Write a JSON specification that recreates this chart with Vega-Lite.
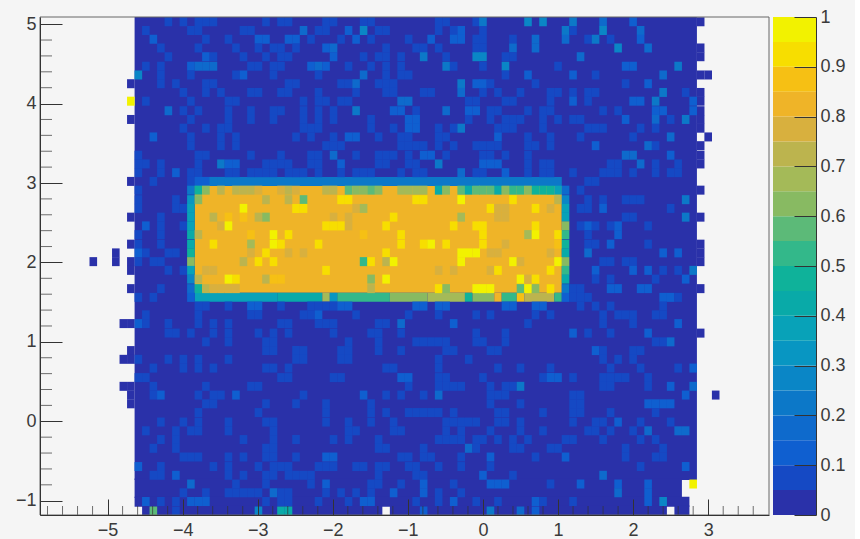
{"$schema":"https://vega.github.io/schema/vega-lite/v6.json","background":"#f5f5f5","padding":{"left":15,"top":8,"right":9,"bottom":0},"spacing":3,
"config":{"view":{"stroke":null},"axis":{"labelFont":"Liberation Sans","labelFontSize":18,"labelColor":"#3a3a3a","domainColor":"#333","tickColor":"#333","grid":false,"title":null}},
"datasets":{
"bar":[{"a":0,"b":0.05},{"a":0.05,"b":0.1},{"a":0.1,"b":0.15},{"a":0.15,"b":0.2},{"a":0.2,"b":0.25},{"a":0.25,"b":0.3},{"a":0.3,"b":0.35},{"a":0.35,"b":0.4},{"a":0.4,"b":0.45},{"a":0.45,"b":0.5},{"a":0.5,"b":0.55},{"a":0.55,"b":0.6},{"a":0.6,"b":0.65},{"a":0.65,"b":0.7},{"a":0.7,"b":0.75},{"a":0.75,"b":0.8},{"a":0.8,"b":0.85},{"a":0.85,"b":0.9},{"a":0.9,"b":0.95},{"a":0.95,"b":1}],
"xm":[{"x":-5.8},{"x":-5.6},{"x":-5.4},{"x":-5.2},{"x":-4.8},{"x":-4.6},{"x":-4.4},{"x":-4.2},{"x":-3.8},{"x":-3.6},{"x":-3.4},{"x":-3.2},{"x":-2.8},{"x":-2.6},{"x":-2.4},{"x":-2.2},{"x":-1.8},{"x":-1.6},{"x":-1.4},{"x":-1.2},{"x":-0.8},{"x":-0.6},{"x":-0.4},{"x":-0.2},{"x":0.2},{"x":0.4},{"x":0.6},{"x":0.8},{"x":1.2},{"x":1.4},{"x":1.6},{"x":1.8},{"x":2.2},{"x":2.4},{"x":2.6},{"x":2.8},{"x":3.2},{"x":3.4},{"x":3.6}],
"ym":[{"y":-0.8},{"y":-0.6},{"y":-0.4},{"y":-0.2},{"y":0.2},{"y":0.4},{"y":0.6},{"y":0.8},{"y":1.2},{"y":1.4},{"y":1.6},{"y":1.8},{"y":2.2},{"y":2.4},{"y":2.6},{"y":2.8},{"y":3.2},{"y":3.4},{"y":3.6},{"y":3.8},{"y":4.2},{"y":4.4},{"y":4.6},{"y":4.8}],
"regions":[
{"x":-4.64,"x2":2.85,"y":5.09,"y2":-0.74,"v":0.02},
{"x":-4.64,"x2":2.65,"y":-0.72,"y2":-0.965,"v":0.02},
{"x":-4.64,"x2":2.75,"y":-0.95,"y2":-1.075,"v":0.02},
{"x":-4.54,"x2":-1.34,"y":-1.06,"y2":-1.18,"v":0.02},
{"x":-1.24,"x2":2.45,"y":-1.06,"y2":-1.18,"v":0.02},
{"x":2.55,"x2":2.75,"y":-1.06,"y2":-1.18,"v":0.02},
{"x":-3.84,"x2":1.05,"y":2.962,"y2":1.618,"v":0.82},
{"x":-3.84,"x2":1.05,"y":3.074,"y2":2.962,"v":0.22},
{"x":-3.84,"x2":-2.74,"y":1.618,"y2":1.506,"v":0.37},
{"x":-2.74,"x2":-2.14,"y":1.618,"y2":1.506,"v":0.42},
{"x":-2.14,"x2":-2.04,"y":1.618,"y2":1.506,"v":0.65},
{"x":-2.04,"x2":-1.94,"y":1.618,"y2":1.506,"v":0.32},
{"x":-1.94,"x2":-1.24,"y":1.618,"y2":1.506,"v":0.52},
{"x":-1.24,"x2":-0.74,"y":1.618,"y2":1.506,"v":0.6},
{"x":-0.74,"x2":-0.24,"y":1.618,"y2":1.506,"v":0.67},
{"x":-0.24,"x2":-0.14,"y":1.618,"y2":1.506,"v":0.47},
{"x":-0.14,"x2":0.15,"y":1.618,"y2":1.506,"v":0.6},
{"x":0.15,"x2":0.25,"y":1.618,"y2":1.506,"v":0.82},
{"x":0.25,"x2":0.45,"y":1.618,"y2":1.506,"v":0.52},
{"x":0.45,"x2":0.55,"y":1.618,"y2":1.506,"v":0.87},
{"x":0.55,"x2":0.95,"y":1.618,"y2":1.506,"v":0.72},
{"x":0.95,"x2":1.05,"y":1.618,"y2":1.506,"v":0.52}
],
"cells":[
{"x":2.9,"y":5.03,"v":0.02},{"x":2.9,"y":4.7,"v":0.02},{"x":2.9,"y":4.59,"v":0.02},{"x":2.9,"y":4.36,"v":0.02},{"x":3.0,"y":4.36,"v":0.02},{"x":2.9,"y":4.14,"v":0.02},{"x":2.9,"y":4.03,"v":0.02},{"x":2.9,"y":3.91,"v":0.02},{"x":2.9,"y":3.8,"v":0.02},{"x":2.9,"y":3.69,"v":0.02},{"x":3.0,"y":3.58,"v":0.02},{"x":2.9,"y":3.47,"v":0.02},{"x":2.9,"y":3.35,"v":0.02},{"x":2.9,"y":3.24,"v":0.02},{"x":2.9,"y":2.91,"v":0.02},{"x":2.9,"y":2.57,"v":0.02},{"x":2.9,"y":2.23,"v":0.02},{"x":2.9,"y":2.12,"v":0.02},{"x":2.9,"y":2.01,"v":0.02},{"x":2.9,"y":1.67,"v":0.02},{"x":2.9,"y":1.11,"v":0.02},{"x":3.1,"y":0.33,"v":0.02},{"x":2.8,"y":-0.79,"v":0.97},
{"x":-4.69,"y":4.25,"v":0.02},{"x":-4.69,"y":4.03,"v":0.97},{"x":-4.69,"y":3.8,"v":0.02},{"x":-4.69,"y":3.02,"v":0.02},{"x":-4.69,"y":2.57,"v":0.02},{"x":-4.69,"y":2.23,"v":0.02},{"x":-4.89,"y":2.12,"v":0.02},{"x":-4.89,"y":2.01,"v":0.02},{"x":-5.19,"y":2.01,"v":0.02},{"x":-4.69,"y":2.01,"v":0.02},{"x":-4.69,"y":1.9,"v":0.02},{"x":-4.69,"y":1.67,"v":0.02},{"x":-4.69,"y":1.23,"v":0.02},{"x":-4.79,"y":1.23,"v":0.02},{"x":-4.69,"y":0.89,"v":0.02},{"x":-4.69,"y":0.78,"v":0.02},{"x":-4.79,"y":0.78,"v":0.02},{"x":-4.69,"y":0.44,"v":0.02},{"x":-4.79,"y":0.44,"v":0.02},{"x":-4.69,"y":0.33,"v":0.02},{"x":-4.69,"y":0.22,"v":0.02},
{"x":-4.19,"y":5.03,"v":0.07},{"x":-3.99,"y":5.03,"v":0.07},{"x":-3.79,"y":5.03,"v":0.07},{"x":-3.69,"y":5.03,"v":0.07},{"x":-3.59,"y":5.03,"v":0.07},{"x":-2.89,"y":5.03,"v":0.07},{"x":-2.69,"y":5.03,"v":0.07},{"x":-2.59,"y":5.03,"v":0.07},{"x":-2.09,"y":5.03,"v":0.07},{"x":-1.99,"y":5.03,"v":0.07},{"x":-1.59,"y":5.03,"v":0.07},{"x":-1.49,"y":5.03,"v":0.07},{"x":-0.59,"y":5.03,"v":0.07},{"x":-0.49,"y":5.03,"v":0.07},{"x":-0.09,"y":5.03,"v":0.07},{"x":0,"y":5.03,"v":0.22},{"x":0.6,"y":5.03,"v":0.27},{"x":0.8,"y":5.03,"v":0.27},{"x":1.2,"y":5.03,"v":0.22},{"x":1.6,"y":5.03,"v":0.17},{"x":2,"y":5.03,"v":0.12},
{"x":-4.49,"y":4.92,"v":0.07},{"x":-3.89,"y":4.92,"v":0.07},{"x":-3.79,"y":4.92,"v":0.07},{"x":-3.19,"y":4.92,"v":0.07},{"x":-3.09,"y":4.92,"v":0.07},{"x":-2.39,"y":4.92,"v":0.17},{"x":-2.19,"y":4.92,"v":0.07},{"x":-2.09,"y":4.92,"v":0.07},{"x":-1.79,"y":4.92,"v":0.12},{"x":-1.59,"y":4.92,"v":0.27},{"x":-1.39,"y":4.92,"v":0.07},{"x":-1.29,"y":4.92,"v":0.07},{"x":-0.59,"y":4.92,"v":0.07},{"x":-0.39,"y":4.92,"v":0.07},{"x":-0.29,"y":4.92,"v":0.12},{"x":0,"y":4.92,"v":0.07},{"x":1.1,"y":4.92,"v":0.22},{"x":1.2,"y":4.92,"v":0.07},{"x":1.6,"y":4.92,"v":0.27},{"x":2.1,"y":4.92,"v":0.17},
{"x":-4.39,"y":4.81,"v":0.12},{"x":-3.69,"y":4.81,"v":0.07},{"x":-3.39,"y":4.81,"v":0.07},{"x":-2.99,"y":4.81,"v":0.12},{"x":-2.89,"y":4.81,"v":0.12},{"x":-2.59,"y":4.81,"v":0.12},{"x":-2.49,"y":4.81,"v":0.12},{"x":-2.29,"y":4.81,"v":0.07},{"x":-1.89,"y":4.81,"v":0.07},{"x":-1.69,"y":4.81,"v":0.12},{"x":-1.49,"y":4.81,"v":0.07},{"x":-0.99,"y":4.81,"v":0.07},{"x":-0.69,"y":4.81,"v":0.12},{"x":-0.39,"y":4.81,"v":0.12},{"x":-0.29,"y":4.81,"v":0.12},{"x":-0.09,"y":4.81,"v":0.07},{"x":0,"y":4.81,"v":0.07},{"x":0.4,"y":4.81,"v":0.07},{"x":0.7,"y":4.81,"v":0.17},{"x":1.1,"y":4.81,"v":0.17},{"x":1.4,"y":4.81,"v":0.07},{"x":1.5,"y":4.81,"v":0.22},{"x":1.7,"y":4.81,"v":0.07},{"x":2.1,"y":4.81,"v":0.12},
{"x":-4.29,"y":4.7,"v":0.07},{"x":-3.79,"y":4.7,"v":0.07},{"x":-3.29,"y":4.7,"v":0.07},{"x":-2.99,"y":4.7,"v":0.07},{"x":-2.79,"y":4.7,"v":0.07},{"x":-2.69,"y":4.7,"v":0.07},{"x":-2.49,"y":4.7,"v":0.07},{"x":-2.09,"y":4.7,"v":0.12},{"x":-1.99,"y":4.7,"v":0.17},{"x":-1.29,"y":4.7,"v":0.07},{"x":-0.89,"y":4.7,"v":0.07},{"x":-0.79,"y":4.7,"v":0.07},{"x":-0.59,"y":4.7,"v":0.07},{"x":-0.09,"y":4.7,"v":0.07},{"x":0,"y":4.7,"v":0.07},{"x":0.4,"y":4.7,"v":0.17},{"x":0.7,"y":4.7,"v":0.17},{"x":1.8,"y":4.7,"v":0.27},{"x":2.2,"y":4.7,"v":0.17},
{"x":-4.19,"y":4.59,"v":0.07},{"x":-3.69,"y":4.59,"v":0.12},{"x":-3.59,"y":4.59,"v":0.07},{"x":-3.19,"y":4.59,"v":0.07},{"x":-2.89,"y":4.59,"v":0.07},{"x":-2.69,"y":4.59,"v":0.07},{"x":-2.59,"y":4.59,"v":0.07},{"x":-1.99,"y":4.59,"v":0.12},{"x":-1.59,"y":4.59,"v":0.07},{"x":-1.39,"y":4.59,"v":0.07},{"x":-1.29,"y":4.59,"v":0.07},{"x":-1.09,"y":4.59,"v":0.07},{"x":-0.79,"y":4.59,"v":0.22},{"x":-0.49,"y":4.59,"v":0.07},{"x":-0.09,"y":4.59,"v":0.27},{"x":0,"y":4.59,"v":0.27},{"x":0.3,"y":4.59,"v":0.07},{"x":0.4,"y":4.59,"v":0.07},{"x":1.3,"y":4.59,"v":0.17},
{"x":-4.49,"y":4.47,"v":0.07},{"x":-4.29,"y":4.47,"v":0.07},{"x":-3.89,"y":4.47,"v":0.12},{"x":-3.79,"y":4.47,"v":0.17},{"x":-3.69,"y":4.47,"v":0.17},{"x":-3.59,"y":4.47,"v":0.17},{"x":-3.09,"y":4.47,"v":0.07},{"x":-2.99,"y":4.47,"v":0.07},{"x":-2.79,"y":4.47,"v":0.07},{"x":-2.69,"y":4.47,"v":0.07},{"x":-2.29,"y":4.47,"v":0.12},{"x":-2.19,"y":4.47,"v":0.17},{"x":-2.09,"y":4.47,"v":0.12},{"x":-1.79,"y":4.47,"v":0.07},{"x":-1.49,"y":4.47,"v":0.07},{"x":-1.29,"y":4.47,"v":0.07},{"x":-1.09,"y":4.47,"v":0.07},{"x":-0.49,"y":4.47,"v":0.22},{"x":-0.39,"y":4.47,"v":0.07},{"x":0,"y":4.47,"v":0.07},{"x":0.3,"y":4.47,"v":0.27},{"x":1,"y":4.47,"v":0.07},{"x":1.9,"y":4.47,"v":0.12},{"x":2,"y":4.47,"v":0.12},{"x":2.6,"y":4.47,"v":0.22},
{"x":-4.59,"y":4.36,"v":0.27},{"x":-4.29,"y":4.36,"v":0.07},{"x":-3.89,"y":4.36,"v":0.07},{"x":-3.29,"y":4.36,"v":0.07},{"x":-3.19,"y":4.36,"v":0.12},{"x":-2.79,"y":4.36,"v":0.07},{"x":-2.19,"y":4.36,"v":0.07},{"x":-1.59,"y":4.36,"v":0.17},{"x":-1.29,"y":4.36,"v":0.07},{"x":-1.09,"y":4.36,"v":0.07},{"x":-0.99,"y":4.36,"v":0.07},{"x":0.3,"y":4.36,"v":0.07},{"x":0.6,"y":4.36,"v":0.12},{"x":1.2,"y":4.36,"v":0.12},{"x":1.5,"y":4.36,"v":0.07},{"x":2.4,"y":4.36,"v":0.17},
{"x":-4.29,"y":4.25,"v":0.07},{"x":-4.09,"y":4.25,"v":0.07},{"x":-3.69,"y":4.25,"v":0.07},{"x":-3.59,"y":4.25,"v":0.07},{"x":-2.59,"y":4.25,"v":0.07},{"x":-2.49,"y":4.25,"v":0.07},{"x":-1.89,"y":4.25,"v":0.07},{"x":-1.79,"y":4.25,"v":0.07},{"x":-1.69,"y":4.25,"v":0.17},{"x":-1.39,"y":4.25,"v":0.07},{"x":-1.29,"y":4.25,"v":0.07},{"x":-1.19,"y":4.25,"v":0.07},{"x":-0.29,"y":4.25,"v":0.22},{"x":-0.09,"y":4.25,"v":0.12},{"x":0,"y":4.25,"v":0.12},{"x":0.1,"y":4.25,"v":0.07},{"x":0.7,"y":4.25,"v":0.07},{"x":1.9,"y":4.25,"v":0.07},{"x":2.2,"y":4.25,"v":0.12},
{"x":-3.99,"y":4.14,"v":0.07},{"x":-3.69,"y":4.14,"v":0.07},{"x":-3.49,"y":4.14,"v":0.07},{"x":-3.09,"y":4.14,"v":0.07},{"x":-2.99,"y":4.14,"v":0.07},{"x":-2.69,"y":4.14,"v":0.07},{"x":-2.59,"y":4.14,"v":0.07},{"x":-2.19,"y":4.14,"v":0.07},{"x":-1.69,"y":4.14,"v":0.07},{"x":-1.29,"y":4.14,"v":0.07},{"x":-1.19,"y":4.14,"v":0.07},{"x":-0.79,"y":4.14,"v":0.07},{"x":-0.69,"y":4.14,"v":0.07},{"x":-0.29,"y":4.14,"v":0.17},{"x":0,"y":4.14,"v":0.07},{"x":0.2,"y":4.14,"v":0.07},{"x":0.5,"y":4.14,"v":0.07},{"x":0.9,"y":4.14,"v":0.07},{"x":1,"y":4.14,"v":0.07},{"x":1.2,"y":4.14,"v":0.07},{"x":1.4,"y":4.14,"v":0.07},{"x":1.5,"y":4.14,"v":0.07},{"x":2.4,"y":4.14,"v":0.22},{"x":2.7,"y":4.14,"v":0.07},
{"x":-4.49,"y":4.03,"v":0.07},{"x":-3.89,"y":4.03,"v":0.07},{"x":-3.39,"y":4.03,"v":0.07},{"x":-3.29,"y":4.03,"v":0.07},{"x":-2.39,"y":4.03,"v":0.07},{"x":-2.19,"y":4.03,"v":0.07},{"x":-2.09,"y":4.03,"v":0.07},{"x":-1.89,"y":4.03,"v":0.07},{"x":-1.79,"y":4.03,"v":0.07},{"x":-1.09,"y":4.03,"v":0.17},{"x":-0.99,"y":4.03,"v":0.17},{"x":-0.19,"y":4.03,"v":0.07},{"x":-0.09,"y":4.03,"v":0.07},{"x":0.3,"y":4.03,"v":0.07},{"x":0.4,"y":4.03,"v":0.07},{"x":0.9,"y":4.03,"v":0.07},{"x":1.2,"y":4.03,"v":0.12},{"x":1.4,"y":4.03,"v":0.07},{"x":2,"y":4.03,"v":0.12},{"x":2.1,"y":4.03,"v":0.12},{"x":2.3,"y":4.03,"v":0.22},{"x":2.8,"y":4.03,"v":0.12},
{"x":-4.19,"y":3.91,"v":0.17},{"x":-3.99,"y":3.91,"v":0.07},{"x":-3.79,"y":3.91,"v":0.07},{"x":-3.39,"y":3.91,"v":0.07},{"x":-3.09,"y":3.91,"v":0.07},{"x":-2.79,"y":3.91,"v":0.07},{"x":-2.69,"y":3.91,"v":0.07},{"x":-2.39,"y":3.91,"v":0.07},{"x":-2.19,"y":3.91,"v":0.07},{"x":-1.99,"y":3.91,"v":0.07},{"x":-1.69,"y":3.91,"v":0.22},{"x":-1.19,"y":3.91,"v":0.12},{"x":-1.09,"y":3.91,"v":0.12},{"x":-0.89,"y":3.91,"v":0.07},{"x":-0.49,"y":3.91,"v":0.17},{"x":-0.19,"y":3.91,"v":0.12},{"x":-0.09,"y":3.91,"v":0.12},{"x":0.1,"y":3.91,"v":0.07},{"x":0.2,"y":3.91,"v":0.07},{"x":0.6,"y":3.91,"v":0.07},{"x":0.8,"y":3.91,"v":0.07},{"x":0.9,"y":3.91,"v":0.07},{"x":1.6,"y":3.91,"v":0.07},{"x":1.8,"y":3.91,"v":0.07},{"x":2.3,"y":3.91,"v":0.12},{"x":2.4,"y":3.91,"v":0.12},{"x":2.8,"y":3.91,"v":0.12},
{"x":-3.89,"y":3.8,"v":0.07},{"x":-3.39,"y":3.8,"v":0.07},{"x":-3.09,"y":3.8,"v":0.07},{"x":-2.79,"y":3.8,"v":0.07},{"x":-2.39,"y":3.8,"v":0.07},{"x":-2.19,"y":3.8,"v":0.07},{"x":-1.99,"y":3.8,"v":0.07},{"x":-1.49,"y":3.8,"v":0.07},{"x":-0.99,"y":3.8,"v":0.12},{"x":-0.89,"y":3.8,"v":0.12},{"x":-0.19,"y":3.8,"v":0.07},{"x":0.1,"y":3.8,"v":0.07},{"x":0.3,"y":3.8,"v":0.07},{"x":0.4,"y":3.8,"v":0.07},{"x":0.5,"y":3.8,"v":0.07},{"x":0.8,"y":3.8,"v":0.07},{"x":1,"y":3.8,"v":0.07},{"x":1.2,"y":3.8,"v":0.07},{"x":1.3,"y":3.8,"v":0.07},{"x":1.9,"y":3.8,"v":0.12},{"x":2.3,"y":3.8,"v":0.17},{"x":2.5,"y":3.8,"v":0.07},{"x":2.7,"y":3.8,"v":0.22},
{"x":-3.99,"y":3.69,"v":0.07},{"x":-3.69,"y":3.69,"v":0.07},{"x":-3.49,"y":3.69,"v":0.07},{"x":-3.39,"y":3.69,"v":0.07},{"x":-2.39,"y":3.69,"v":0.07},{"x":-2.29,"y":3.69,"v":0.07},{"x":-2.19,"y":3.69,"v":0.07},{"x":-1.49,"y":3.69,"v":0.07},{"x":-1.19,"y":3.69,"v":0.07},{"x":-0.99,"y":3.69,"v":0.12},{"x":-0.89,"y":3.69,"v":0.12},{"x":-0.59,"y":3.69,"v":0.07},{"x":-0.39,"y":3.69,"v":0.07},{"x":-0.29,"y":3.69,"v":0.22},{"x":0.2,"y":3.69,"v":0.07},{"x":0.3,"y":3.69,"v":0.07},{"x":0.4,"y":3.69,"v":0.07},{"x":0.8,"y":3.69,"v":0.07},{"x":1.4,"y":3.69,"v":0.07},{"x":1.5,"y":3.69,"v":0.07},{"x":1.6,"y":3.69,"v":0.07},{"x":2.1,"y":3.69,"v":0.07},{"x":2.3,"y":3.69,"v":0.07},
{"x":-4.39,"y":3.58,"v":0.12},{"x":-3.89,"y":3.58,"v":0.07},{"x":-3.49,"y":3.58,"v":0.07},{"x":-3.29,"y":3.58,"v":0.07},{"x":-2.49,"y":3.58,"v":0.07},{"x":-2.29,"y":3.58,"v":0.07},{"x":-1.99,"y":3.58,"v":0.07},{"x":-1.79,"y":3.58,"v":0.12},{"x":-1.69,"y":3.58,"v":0.12},{"x":-1.39,"y":3.58,"v":0.07},{"x":-1.09,"y":3.58,"v":0.07},{"x":-0.99,"y":3.58,"v":0.07},{"x":-0.59,"y":3.58,"v":0.07},{"x":-0.49,"y":3.58,"v":0.07},{"x":0.2,"y":3.58,"v":0.12},{"x":0.6,"y":3.58,"v":0.07},{"x":0.9,"y":3.58,"v":0.07},{"x":1.3,"y":3.58,"v":0.07},{"x":2,"y":3.58,"v":0.07},{"x":2.5,"y":3.58,"v":0.17},
{"x":-3.89,"y":3.47,"v":0.07},{"x":-3.49,"y":3.47,"v":0.07},{"x":-3.29,"y":3.47,"v":0.07},{"x":-2.09,"y":3.47,"v":0.07},{"x":-1.99,"y":3.47,"v":0.07},{"x":-1.89,"y":3.47,"v":0.07},{"x":-1.09,"y":3.47,"v":0.07},{"x":-0.99,"y":3.47,"v":0.07},{"x":-0.89,"y":3.47,"v":0.07},{"x":-0.79,"y":3.47,"v":0.07},{"x":-0.59,"y":3.47,"v":0.07},{"x":-0.39,"y":3.47,"v":0.07},{"x":-0.09,"y":3.47,"v":0.07},{"x":0,"y":3.47,"v":0.07},{"x":0.1,"y":3.47,"v":0.07},{"x":0.2,"y":3.47,"v":0.07},{"x":0.6,"y":3.47,"v":0.07},{"x":0.7,"y":3.47,"v":0.07},{"x":0.9,"y":3.47,"v":0.07},{"x":1.5,"y":3.47,"v":0.12},{"x":2.2,"y":3.47,"v":0.17},{"x":2.3,"y":3.47,"v":0.07},
{"x":-4.59,"y":3.35,"v":0.07},{"x":-3.79,"y":3.35,"v":0.07},{"x":-3.69,"y":3.35,"v":0.07},{"x":-3.09,"y":3.35,"v":0.07},{"x":-2.69,"y":3.35,"v":0.07},{"x":-2.29,"y":3.35,"v":0.07},{"x":-2.19,"y":3.35,"v":0.07},{"x":-1.99,"y":3.35,"v":0.17},{"x":-1.69,"y":3.35,"v":0.07},{"x":-1.39,"y":3.35,"v":0.07},{"x":-1.29,"y":3.35,"v":0.07},{"x":-1.19,"y":3.35,"v":0.07},{"x":-0.99,"y":3.35,"v":0.07},{"x":-0.79,"y":3.35,"v":0.12},{"x":-0.69,"y":3.35,"v":0.12},{"x":-0.49,"y":3.35,"v":0.07},{"x":0,"y":3.35,"v":0.07},{"x":0.1,"y":3.35,"v":0.07},{"x":0.3,"y":3.35,"v":0.07},{"x":0.6,"y":3.35,"v":0.07},{"x":1.9,"y":3.35,"v":0.17},{"x":2,"y":3.35,"v":0.17},{"x":2.5,"y":3.35,"v":0.12},
{"x":-4.59,"y":3.24,"v":0.07},{"x":-4.49,"y":3.24,"v":0.07},{"x":-4.29,"y":3.24,"v":0.07},{"x":-3.79,"y":3.24,"v":0.07},{"x":-3.49,"y":3.24,"v":0.22},{"x":-3.39,"y":3.24,"v":0.12},{"x":-3.29,"y":3.24,"v":0.12},{"x":-2.89,"y":3.24,"v":0.07},{"x":-2.79,"y":3.24,"v":0.07},{"x":-2.69,"y":3.24,"v":0.07},{"x":-2.59,"y":3.24,"v":0.07},{"x":-2.29,"y":3.24,"v":0.07},{"x":-2.19,"y":3.24,"v":0.07},{"x":-1.89,"y":3.24,"v":0.12},{"x":-1.39,"y":3.24,"v":0.07},{"x":-1.29,"y":3.24,"v":0.07},{"x":-0.99,"y":3.24,"v":0.07},{"x":-0.89,"y":3.24,"v":0.07},{"x":-0.59,"y":3.24,"v":0.22},{"x":0,"y":3.24,"v":0.12},{"x":0.1,"y":3.24,"v":0.12},{"x":0.2,"y":3.24,"v":0.12},{"x":0.6,"y":3.24,"v":0.07},{"x":0.8,"y":3.24,"v":0.07},{"x":0.9,"y":3.24,"v":0.07},{"x":1.7,"y":3.24,"v":0.07},{"x":1.8,"y":3.24,"v":0.07},{"x":2.1,"y":3.24,"v":0.17},{"x":2.3,"y":3.24,"v":0.07},{"x":2.6,"y":3.24,"v":0.07},
{"x":-4.59,"y":3.13,"v":0.07},{"x":-4.29,"y":3.13,"v":0.07},{"x":-4.09,"y":3.13,"v":0.12},{"x":-3.89,"y":3.13,"v":0.07},{"x":-3.79,"y":3.13,"v":0.07},{"x":-3.39,"y":3.13,"v":0.07},{"x":-3.29,"y":3.13,"v":0.07},{"x":-3.09,"y":3.13,"v":0.07},{"x":-2.99,"y":3.13,"v":0.07},{"x":-2.89,"y":3.13,"v":0.07},{"x":-2.79,"y":3.13,"v":0.07},{"x":-2.59,"y":3.13,"v":0.07},{"x":-2.49,"y":3.13,"v":0.07},{"x":-2.39,"y":3.13,"v":0.07},{"x":-2.19,"y":3.13,"v":0.07},{"x":-1.89,"y":3.13,"v":0.07},{"x":-1.69,"y":3.13,"v":0.07},{"x":-1.59,"y":3.13,"v":0.07},{"x":-1.49,"y":3.13,"v":0.07},{"x":-1.09,"y":3.13,"v":0.07},{"x":-0.89,"y":3.13,"v":0.07},{"x":-0.79,"y":3.13,"v":0.07},{"x":-0.29,"y":3.13,"v":0.17},{"x":-0.09,"y":3.13,"v":0.07},{"x":0,"y":3.13,"v":0.07},{"x":0.3,"y":3.13,"v":0.12},{"x":0.6,"y":3.13,"v":0.07},{"x":0.8,"y":3.13,"v":0.07},{"x":0.9,"y":3.13,"v":0.07},{"x":1.2,"y":3.13,"v":0.07},{"x":1.6,"y":3.13,"v":0.07},{"x":1.7,"y":3.13,"v":0.07},{"x":1.8,"y":3.13,"v":0.07},{"x":2,"y":3.13,"v":0.07},{"x":2.3,"y":3.13,"v":0.07},{"x":2.5,"y":3.13,"v":0.07},{"x":2.6,"y":3.13,"v":0.07},
{"x":-4.39,"y":3.02,"v":0.07},{"x":-3.89,"y":3.02,"v":0.07},{"x":-3.79,"y":3.02,"v":0.12},{"x":-3.69,"y":3.02,"v":0.12},{"x":-3.59,"y":3.02,"v":0.22},{"x":-3.49,"y":3.02,"v":0.22},{"x":1.4,"y":3.02,"v":0.07},{"x":1.5,"y":3.02,"v":0.07},
{"x":-4.59,"y":2.91,"v":0.07},{"x":-3.89,"y":2.91,"v":0.22},{"x":-3.79,"y":2.91,"v":0.47},{"x":-3.69,"y":2.91,"v":0.62},{"x":-3.49,"y":2.91,"v":0.72},{"x":-3.29,"y":2.91,"v":0.72},{"x":-3.19,"y":2.91,"v":0.72},{"x":-3.09,"y":2.91,"v":0.72},{"x":-2.99,"y":2.91,"v":0.77},{"x":-2.69,"y":2.91,"v":0.77},{"x":-2.59,"y":2.91,"v":0.72},{"x":-2.49,"y":2.91,"v":0.77},{"x":-2.09,"y":2.91,"v":0.72},{"x":-1.99,"y":2.91,"v":0.72},{"x":-1.79,"y":2.91,"v":0.57},{"x":-1.69,"y":2.91,"v":0.62},{"x":-1.59,"y":2.91,"v":0.62},{"x":-1.49,"y":2.91,"v":0.57},{"x":-1.39,"y":2.91,"v":0.62},{"x":-1.09,"y":2.91,"v":0.67},{"x":-0.99,"y":2.91,"v":0.67},{"x":-0.89,"y":2.91,"v":0.67},{"x":-0.79,"y":2.91,"v":0.67},{"x":-0.59,"y":2.91,"v":0.42},{"x":-0.49,"y":2.91,"v":0.62},{"x":-0.29,"y":2.91,"v":0.57},{"x":-0.19,"y":2.91,"v":0.42},{"x":-0.09,"y":2.91,"v":0.57},{"x":0,"y":2.91,"v":0.57},{"x":0.1,"y":2.91,"v":0.57},{"x":0.2,"y":2.91,"v":0.42},{"x":0.3,"y":2.91,"v":0.62},{"x":0.4,"y":2.91,"v":0.52},{"x":0.5,"y":2.91,"v":0.52},{"x":0.6,"y":2.91,"v":0.62},{"x":0.7,"y":2.91,"v":0.47},{"x":0.8,"y":2.91,"v":0.47},{"x":0.9,"y":2.91,"v":0.47},{"x":1,"y":2.91,"v":0.37},{"x":1.1,"y":2.91,"v":0.17},{"x":1.3,"y":2.91,"v":0.07},
{"x":-4.59,"y":2.79,"v":0.07},{"x":-4.09,"y":2.79,"v":0.07},{"x":-3.89,"y":2.79,"v":0.32},{"x":-3.79,"y":2.79,"v":0.62},{"x":-2.89,"y":2.79,"v":0.72},{"x":-2.59,"y":2.79,"v":0.72},{"x":-2.39,"y":2.79,"v":0.57},{"x":-1.89,"y":2.79,"v":0.92},{"x":-1.79,"y":2.79,"v":0.92},{"x":-0.89,"y":2.79,"v":0.92},{"x":-0.79,"y":2.79,"v":0.92},{"x":-0.29,"y":2.79,"v":0.97},{"x":0.4,"y":2.79,"v":0.92},{"x":1,"y":2.79,"v":0.72},{"x":1.1,"y":2.79,"v":0.27},{"x":1.4,"y":2.79,"v":0.07},{"x":1.6,"y":2.79,"v":0.07},{"x":1.9,"y":2.79,"v":0.07},{"x":2,"y":2.79,"v":0.07},{"x":2.1,"y":2.79,"v":0.07},{"x":2.7,"y":2.79,"v":0.22},
{"x":-4.59,"y":2.68,"v":0.07},{"x":-3.99,"y":2.68,"v":0.07},{"x":-4.09,"y":2.68,"v":0.07},{"x":-3.89,"y":2.68,"v":0.37},{"x":-3.19,"y":2.68,"v":0.97},{"x":-2.49,"y":2.68,"v":0.92},{"x":-2.39,"y":2.68,"v":0.92},{"x":-1.69,"y":2.68,"v":0.77},{"x":-1.59,"y":2.68,"v":0.67},{"x":0.1,"y":2.68,"v":0.92},{"x":0.2,"y":2.68,"v":0.77},{"x":0.3,"y":2.68,"v":0.77},{"x":0.7,"y":2.68,"v":0.92},{"x":0.9,"y":2.68,"v":0.77},{"x":1.1,"y":2.68,"v":0.37},{"x":1.3,"y":2.68,"v":0.07},{"x":1.4,"y":2.68,"v":0.07},{"x":1.6,"y":2.68,"v":0.12},{"x":2.5,"y":2.68,"v":0.07},
{"x":-4.29,"y":2.57,"v":0.07},{"x":-3.89,"y":2.57,"v":0.37},{"x":-3.59,"y":2.57,"v":0.72},{"x":-3.39,"y":2.57,"v":0.87},{"x":-3.19,"y":2.57,"v":0.87},{"x":-2.99,"y":2.57,"v":0.72},{"x":-2.89,"y":2.57,"v":0.62},{"x":-1.99,"y":2.57,"v":0.77},{"x":-1.79,"y":2.57,"v":0.77},{"x":-1.19,"y":2.57,"v":0.92},{"x":-0.29,"y":2.57,"v":0.67},{"x":0.2,"y":2.57,"v":0.77},{"x":0.3,"y":2.57,"v":0.77},{"x":1.1,"y":2.57,"v":0.37},{"x":1.9,"y":2.57,"v":0.07},{"x":2,"y":2.57,"v":0.07},{"x":2.7,"y":2.57,"v":0.22},
{"x":-4.49,"y":2.46,"v":0.12},{"x":-4.29,"y":2.46,"v":0.07},{"x":-3.99,"y":2.46,"v":0.07},{"x":-3.89,"y":2.46,"v":0.37},{"x":-3.49,"y":2.46,"v":0.77},{"x":-3.39,"y":2.46,"v":0.97},{"x":-2.09,"y":2.46,"v":0.92},{"x":-1.99,"y":2.46,"v":0.92},{"x":-1.89,"y":2.46,"v":0.92},{"x":-1.79,"y":2.46,"v":0.77},{"x":-1.29,"y":2.46,"v":0.92},{"x":-0.39,"y":2.46,"v":0.92},{"x":-0.09,"y":2.46,"v":0.92},{"x":0,"y":2.46,"v":0.92},{"x":0.7,"y":2.46,"v":0.92},{"x":1.1,"y":2.46,"v":0.62},{"x":1.3,"y":2.46,"v":0.07},{"x":1.4,"y":2.46,"v":0.12},{"x":1.5,"y":2.46,"v":0.07},{"x":1.7,"y":2.46,"v":0.07},{"x":1.8,"y":2.46,"v":0.12},{"x":2.2,"y":2.46,"v":0.07},
{"x":-4.59,"y":2.35,"v":0.07},{"x":-4.29,"y":2.35,"v":0.07},{"x":-3.89,"y":2.35,"v":0.42},{"x":-3.79,"y":2.35,"v":0.72},{"x":-3.09,"y":2.35,"v":0.87},{"x":-2.79,"y":2.35,"v":0.97},{"x":-2.59,"y":2.35,"v":0.92},{"x":-1.59,"y":2.35,"v":0.87},{"x":-1.09,"y":2.35,"v":0.92},{"x":0,"y":2.35,"v":0.92},{"x":0.6,"y":2.35,"v":0.67},{"x":0.7,"y":2.35,"v":0.97},{"x":1,"y":2.35,"v":0.92},{"x":1.1,"y":2.35,"v":0.52},{"x":1.4,"y":2.35,"v":0.07},{"x":1.8,"y":2.35,"v":0.12},
{"x":-4.59,"y":2.23,"v":0.07},{"x":-4.29,"y":2.23,"v":0.07},{"x":-3.89,"y":2.23,"v":0.42},{"x":-3.59,"y":2.23,"v":0.92},{"x":-3.09,"y":2.23,"v":0.67},{"x":-2.79,"y":2.23,"v":0.97},{"x":-2.69,"y":2.23,"v":0.92},{"x":-2.19,"y":2.23,"v":0.92},{"x":-1.09,"y":2.23,"v":0.92},{"x":-0.79,"y":2.23,"v":0.92},{"x":-0.69,"y":2.23,"v":0.97},{"x":-0.49,"y":2.23,"v":0.92},{"x":0,"y":2.23,"v":0.92},{"x":0.3,"y":2.23,"v":0.77},{"x":1,"y":2.23,"v":0.87},{"x":1.1,"y":2.23,"v":0.47},{"x":1.4,"y":2.23,"v":0.07},{"x":1.5,"y":2.23,"v":0.07},{"x":1.7,"y":2.23,"v":0.12},{"x":2.2,"y":2.23,"v":0.07},
{"x":-4.59,"y":2.12,"v":0.12},{"x":-4.49,"y":2.12,"v":0.07},{"x":-4.19,"y":2.12,"v":0.07},{"x":-4.09,"y":2.12,"v":0.07},{"x":-3.89,"y":2.12,"v":0.47},{"x":-3.09,"y":2.12,"v":0.77},{"x":-2.89,"y":2.12,"v":0.92},{"x":-2.59,"y":2.12,"v":0.77},{"x":-2.39,"y":2.12,"v":0.77},{"x":-1.29,"y":2.12,"v":0.92},{"x":-0.29,"y":2.12,"v":0.97},{"x":-0.19,"y":2.12,"v":0.97},{"x":-0.09,"y":2.12,"v":0.97},{"x":0.1,"y":2.12,"v":0.77},{"x":0.2,"y":2.12,"v":0.77},{"x":0.9,"y":2.12,"v":0.77},{"x":1.1,"y":2.12,"v":0.42},{"x":1.4,"y":2.12,"v":0.17},{"x":2.4,"y":2.12,"v":0.12},{"x":2.6,"y":2.12,"v":0.12},
{"x":-4.59,"y":2.01,"v":0.07},{"x":-4.39,"y":2.01,"v":0.07},{"x":-4.29,"y":2.01,"v":0.07},{"x":-3.89,"y":2.01,"v":0.6},{"x":-3.19,"y":2.01,"v":0.72},{"x":-2.99,"y":2.01,"v":0.92},{"x":-2.79,"y":2.01,"v":0.92},{"x":-1.59,"y":2.01,"v":0.52},{"x":-1.49,"y":2.01,"v":0.92},{"x":-1.29,"y":2.01,"v":0.72},{"x":-1.19,"y":2.01,"v":0.97},{"x":-0.29,"y":2.01,"v":0.97},{"x":0.4,"y":2.01,"v":0.97},{"x":0.5,"y":2.01,"v":0.77},{"x":1,"y":2.01,"v":0.97},{"x":1.1,"y":2.01,"v":0.62},{"x":1.6,"y":2.01,"v":0.07},{"x":1.7,"y":2.01,"v":0.07},{"x":1.9,"y":2.01,"v":0.07},{"x":2,"y":2.01,"v":0.07},
{"x":-4.19,"y":1.9,"v":0.07},{"x":-3.99,"y":1.9,"v":0.07},{"x":-3.89,"y":1.9,"v":0.37},{"x":-3.69,"y":1.9,"v":0.77},{"x":-3.59,"y":1.9,"v":0.77},{"x":-2.09,"y":1.9,"v":0.92},{"x":-0.59,"y":1.9,"v":0.77},{"x":-0.39,"y":1.9,"v":0.77},{"x":0.1,"y":1.9,"v":0.77},{"x":0.2,"y":1.9,"v":0.92},{"x":0.9,"y":1.9,"v":0.92},{"x":1.1,"y":1.9,"v":0.52},{"x":1.5,"y":1.9,"v":0.12},{"x":2,"y":1.9,"v":0.12},{"x":2.2,"y":1.9,"v":0.12},{"x":2.4,"y":1.9,"v":0.07},{"x":2.6,"y":1.9,"v":0.07},{"x":2.8,"y":1.9,"v":0.22},
{"x":-3.89,"y":1.79,"v":0.27},{"x":-3.79,"y":1.79,"v":0.72},{"x":-3.29,"y":1.79,"v":0.92},{"x":-3.39,"y":1.79,"v":0.97},{"x":-2.89,"y":1.79,"v":0.72},{"x":-2.79,"y":1.79,"v":0.87},{"x":-2.69,"y":1.79,"v":0.87},{"x":-1.49,"y":1.79,"v":0.62},{"x":-1.29,"y":1.79,"v":0.97},{"x":0.5,"y":1.79,"v":0.97},{"x":0.6,"y":1.79,"v":0.77},{"x":0.7,"y":1.79,"v":0.92},{"x":1.1,"y":1.79,"v":0.42},{"x":1.5,"y":1.79,"v":0.07},{"x":1.7,"y":1.79,"v":0.07},{"x":2.3,"y":1.79,"v":0.07},{"x":2.7,"y":1.79,"v":0.12},
{"x":-4.29,"y":1.67,"v":0.07},{"x":-3.89,"y":1.67,"v":0.17},{"x":-3.79,"y":1.67,"v":0.47},{"x":-3.69,"y":1.67,"v":0.72},{"x":-3.59,"y":1.67,"v":0.77},{"x":-3.49,"y":1.67,"v":0.77},{"x":-3.39,"y":1.67,"v":0.77},{"x":-3.29,"y":1.67,"v":0.77},{"x":-1.49,"y":1.67,"v":0.72},{"x":-0.59,"y":1.67,"v":0.92},{"x":-0.49,"y":1.67,"v":0.62},{"x":-0.09,"y":1.67,"v":0.97},{"x":0,"y":1.67,"v":0.97},{"x":0.1,"y":1.67,"v":0.97},{"x":0.5,"y":1.67,"v":0.57},{"x":0.6,"y":1.67,"v":0.97},{"x":0.7,"y":1.67,"v":0.62},{"x":0.9,"y":1.67,"v":0.92},{"x":1.1,"y":1.67,"v":0.22},{"x":1.2,"y":1.67,"v":0.07},{"x":1.3,"y":1.67,"v":0.07},{"x":1.7,"y":1.67,"v":0.12},{"x":1.8,"y":1.67,"v":0.12},{"x":2.1,"y":1.67,"v":0.12},{"x":2.2,"y":1.67,"v":0.12},
{"x":-4.59,"y":1.56,"v":0.07},{"x":-4.39,"y":1.56,"v":0.07},{"x":-3.89,"y":1.56,"v":0.12},{"x":1.1,"y":1.56,"v":0.12},{"x":1.2,"y":1.56,"v":0.07},{"x":1.3,"y":1.56,"v":0.07},{"x":1.4,"y":1.56,"v":0.07},{"x":2.4,"y":1.56,"v":0.12},{"x":2.5,"y":1.56,"v":0.12},{"x":2.6,"y":1.56,"v":0.07},
{"x":-3.79,"y":1.45,"v":0.07},{"x":-3.69,"y":1.45,"v":0.07},{"x":-3.39,"y":1.45,"v":0.07},{"x":-3.09,"y":1.45,"v":0.12},{"x":-2.99,"y":1.45,"v":0.12},{"x":-2.69,"y":1.45,"v":0.07},{"x":-2.29,"y":1.45,"v":0.07},{"x":-2.19,"y":1.45,"v":0.07},{"x":-2.09,"y":1.45,"v":0.07},{"x":-1.99,"y":1.45,"v":0.07},{"x":-1.89,"y":1.45,"v":0.12},{"x":-1.79,"y":1.45,"v":0.12},{"x":-0.89,"y":1.45,"v":0.12},{"x":-0.79,"y":1.45,"v":0.12},{"x":-0.59,"y":1.45,"v":0.12},{"x":-0.49,"y":1.45,"v":0.12},{"x":0.3,"y":1.45,"v":0.12},{"x":0.4,"y":1.45,"v":0.12},{"x":0.7,"y":1.45,"v":0.12},{"x":0.8,"y":1.45,"v":0.12},{"x":1.3,"y":1.45,"v":0.07},{"x":1.5,"y":1.45,"v":0.07},{"x":1.7,"y":1.45,"v":0.07},{"x":2.4,"y":1.45,"v":0.07},
{"x":-4.49,"y":1.34,"v":0.07},{"x":-3.79,"y":1.34,"v":0.07},{"x":-3.09,"y":1.34,"v":0.07},{"x":-2.99,"y":1.34,"v":0.07},{"x":-2.39,"y":1.34,"v":0.07},{"x":-2.29,"y":1.34,"v":0.07},{"x":-2.19,"y":1.34,"v":0.12},{"x":-1.69,"y":1.34,"v":0.07},{"x":-0.99,"y":1.34,"v":0.07},{"x":-0.59,"y":1.34,"v":0.07},{"x":-0.09,"y":1.34,"v":0.07},{"x":0.1,"y":1.34,"v":0.07},{"x":0.7,"y":1.34,"v":0.07},{"x":0.9,"y":1.34,"v":0.07},{"x":1.6,"y":1.34,"v":0.07},{"x":1.8,"y":1.34,"v":0.07},{"x":1.9,"y":1.34,"v":0.07},{"x":2,"y":1.34,"v":0.07},{"x":2.3,"y":1.34,"v":0.07},{"x":2.4,"y":1.34,"v":0.07},
{"x":-4.59,"y":1.23,"v":0.12},{"x":-4.49,"y":1.23,"v":0.07},{"x":-4.19,"y":1.23,"v":0.07},{"x":-3.79,"y":1.23,"v":0.07},{"x":-3.59,"y":1.23,"v":0.07},{"x":-3.39,"y":1.23,"v":0.07},{"x":-2.69,"y":1.23,"v":0.07},{"x":-2.59,"y":1.23,"v":0.07},{"x":-2.19,"y":1.23,"v":0.07},{"x":-2.09,"y":1.23,"v":0.07},{"x":-1.99,"y":1.23,"v":0.07},{"x":-1.39,"y":1.23,"v":0.07},{"x":-1.29,"y":1.23,"v":0.07},{"x":-1.09,"y":1.23,"v":0.17},{"x":-0.39,"y":1.23,"v":0.12},{"x":0.6,"y":1.23,"v":0.07},{"x":1.6,"y":1.23,"v":0.07},{"x":2,"y":1.23,"v":0.07},{"x":2.6,"y":1.23,"v":0.12},
{"x":-4.19,"y":1.11,"v":0.07},{"x":-4.09,"y":1.11,"v":0.07},{"x":-3.89,"y":1.11,"v":0.07},{"x":-3.59,"y":1.11,"v":0.07},{"x":-3.39,"y":1.11,"v":0.07},{"x":-2.99,"y":1.11,"v":0.07},{"x":-2.79,"y":1.11,"v":0.07},{"x":-2.59,"y":1.11,"v":0.07},{"x":-1.99,"y":1.11,"v":0.07},{"x":-1.49,"y":1.11,"v":0.07},{"x":-1.39,"y":1.11,"v":0.07},{"x":-1.09,"y":1.11,"v":0.07},{"x":-0.09,"y":1.11,"v":0.07},{"x":0.3,"y":1.11,"v":0.07},{"x":1.2,"y":1.11,"v":0.12},{"x":1.4,"y":1.11,"v":0.07},{"x":1.7,"y":1.11,"v":0.07},{"x":2.2,"y":1.11,"v":0.12},
{"x":-3.69,"y":1,"v":0.07},{"x":-3.39,"y":1,"v":0.07},{"x":-2.89,"y":1,"v":0.07},{"x":-2.79,"y":1,"v":0.07},{"x":-1.79,"y":1,"v":0.07},{"x":-1.39,"y":1,"v":0.07},{"x":-0.89,"y":1,"v":0.07},{"x":-0.79,"y":1,"v":0.07},{"x":-0.69,"y":1,"v":0.07},{"x":-0.59,"y":1,"v":0.07},{"x":-0.49,"y":1,"v":0.07},{"x":-0.09,"y":1,"v":0.07},{"x":0,"y":1,"v":0.07},{"x":0.3,"y":1,"v":0.07},{"x":2.3,"y":1,"v":0.07},{"x":2.4,"y":1,"v":0.07},{"x":2.5,"y":1,"v":0.17},
{"x":-2.89,"y":0.89,"v":0.07},{"x":-2.79,"y":0.89,"v":0.07},{"x":-2.49,"y":0.89,"v":0.07},{"x":-2.39,"y":0.89,"v":0.07},{"x":-1.89,"y":0.89,"v":0.07},{"x":-1.79,"y":0.89,"v":0.07},{"x":-1.39,"y":0.89,"v":0.07},{"x":-1.09,"y":0.89,"v":0.07},{"x":-0.39,"y":0.89,"v":0.07},{"x":-0.49,"y":0.89,"v":0.07},{"x":0.1,"y":0.89,"v":0.07},{"x":0.2,"y":0.89,"v":0.07},{"x":1.5,"y":0.89,"v":0.12},{"x":1.6,"y":0.89,"v":0.07},{"x":2,"y":0.89,"v":0.07},{"x":2.1,"y":0.89,"v":0.07},
{"x":-4.59,"y":0.78,"v":0.07},{"x":-4.19,"y":0.78,"v":0.07},{"x":-3.99,"y":0.78,"v":0.07},{"x":-3.79,"y":0.78,"v":0.07},{"x":-3.39,"y":0.78,"v":0.07},{"x":-2.49,"y":0.78,"v":0.07},{"x":-2.39,"y":0.78,"v":0.07},{"x":-1.89,"y":0.78,"v":0.07},{"x":-1.79,"y":0.78,"v":0.07},{"x":-0.59,"y":0.78,"v":0.07},{"x":-0.19,"y":0.78,"v":0.07},{"x":1.6,"y":0.78,"v":0.07},{"x":1.8,"y":0.78,"v":0.07},{"x":2,"y":0.78,"v":0.07},
{"x":-4.39,"y":0.67,"v":0.07},{"x":-3.99,"y":0.67,"v":0.07},{"x":-3.79,"y":0.67,"v":0.07},{"x":-3.59,"y":0.67,"v":0.07},{"x":-2.89,"y":0.67,"v":0.07},{"x":-2.79,"y":0.67,"v":0.07},{"x":-2.59,"y":0.67,"v":0.07},{"x":-1.29,"y":0.67,"v":0.07},{"x":-1.19,"y":0.67,"v":0.07},{"x":-0.59,"y":0.67,"v":0.07},{"x":0.2,"y":0.67,"v":0.07},{"x":0.5,"y":0.67,"v":0.07},{"x":0.9,"y":0.67,"v":0.07},{"x":1.7,"y":0.67,"v":0.07},{"x":2.1,"y":0.67,"v":0.07},{"x":2.6,"y":0.67,"v":0.07},{"x":2.8,"y":0.67,"v":0.12},
{"x":-4.59,"y":0.55,"v":0.07},{"x":-4.49,"y":0.55,"v":0.07},{"x":-2.69,"y":0.55,"v":0.07},{"x":-2.59,"y":0.55,"v":0.07},{"x":-1.99,"y":0.55,"v":0.07},{"x":-1.89,"y":0.55,"v":0.07},{"x":-1.09,"y":0.55,"v":0.12},{"x":-0.99,"y":0.55,"v":0.12},{"x":-0.59,"y":0.55,"v":0.07},{"x":-0.49,"y":0.55,"v":0.07},{"x":0,"y":0.55,"v":0.07},{"x":0.8,"y":0.55,"v":0.07},{"x":0.9,"y":0.55,"v":0.12},{"x":1,"y":0.55,"v":0.12},{"x":1.2,"y":0.55,"v":0.07},{"x":1.6,"y":0.55,"v":0.07},{"x":1.7,"y":0.55,"v":0.07},{"x":1.8,"y":0.55,"v":0.07},{"x":1.9,"y":0.55,"v":0.07},{"x":2.2,"y":0.55,"v":0.07},
{"x":-4.39,"y":0.44,"v":0.07},{"x":-3.69,"y":0.44,"v":0.07},{"x":-3.09,"y":0.44,"v":0.07},{"x":-2.99,"y":0.44,"v":0.07},{"x":-0.99,"y":0.44,"v":0.07},{"x":-0.59,"y":0.44,"v":0.07},{"x":-0.49,"y":0.44,"v":0.07},{"x":-0.39,"y":0.44,"v":0.07},{"x":-0.29,"y":0.44,"v":0.07},{"x":0.1,"y":0.44,"v":0.07},{"x":0.3,"y":0.44,"v":0.07},{"x":0.4,"y":0.44,"v":0.07},{"x":0.5,"y":0.44,"v":0.22},{"x":1.6,"y":0.44,"v":0.07},{"x":1.7,"y":0.44,"v":0.07},{"x":2.2,"y":0.44,"v":0.07},{"x":2.5,"y":0.44,"v":0.12},{"x":2.8,"y":0.44,"v":0.17},
{"x":-4.39,"y":0.33,"v":0.07},{"x":-4.29,"y":0.33,"v":0.12},{"x":-3.79,"y":0.33,"v":0.07},{"x":-3.59,"y":0.33,"v":0.07},{"x":-3.49,"y":0.33,"v":0.07},{"x":-3.29,"y":0.33,"v":0.12},{"x":-2.39,"y":0.33,"v":0.07},{"x":-1.59,"y":0.33,"v":0.12},{"x":-1.29,"y":0.33,"v":0.07},{"x":-1.09,"y":0.33,"v":0.07},{"x":-0.79,"y":0.33,"v":0.07},{"x":-0.59,"y":0.33,"v":0.17},{"x":0.1,"y":0.33,"v":0.07},{"x":0.2,"y":0.33,"v":0.07},{"x":0.3,"y":0.33,"v":0.07},{"x":1.2,"y":0.33,"v":0.07},{"x":1.3,"y":0.33,"v":0.07},{"x":2.7,"y":0.33,"v":0.12},
{"x":-3.69,"y":0.22,"v":0.07},{"x":-3.59,"y":0.22,"v":0.07},{"x":-2.89,"y":0.22,"v":0.07},{"x":-2.49,"y":0.22,"v":0.07},{"x":-2.09,"y":0.22,"v":0.07},{"x":-1.49,"y":0.22,"v":0.07},{"x":0.1,"y":0.22,"v":0.07},{"x":0.5,"y":0.22,"v":0.07},{"x":1.2,"y":0.22,"v":0.07},{"x":1.3,"y":0.22,"v":0.07},{"x":2.2,"y":0.22,"v":0.12},{"x":2.3,"y":0.22,"v":0.12},{"x":2.4,"y":0.22,"v":0.12},{"x":2.5,"y":0.22,"v":0.12},
{"x":-3.79,"y":0.11,"v":0.07},{"x":-2.99,"y":0.11,"v":0.07},{"x":-2.09,"y":0.11,"v":0.07},{"x":-1.49,"y":0.11,"v":0.07},{"x":-1.29,"y":0.11,"v":0.07},{"x":-0.99,"y":0.11,"v":0.07},{"x":-0.89,"y":0.11,"v":0.07},{"x":-0.79,"y":0.11,"v":0.07},{"x":-0.69,"y":0.11,"v":0.07},{"x":-0.59,"y":0.11,"v":0.07},{"x":-0.39,"y":0.11,"v":0.07},{"x":0.2,"y":0.11,"v":0.07},{"x":0.3,"y":0.11,"v":0.07},{"x":0.8,"y":0.11,"v":0.07},{"x":1.2,"y":0.11,"v":0.07},{"x":1.3,"y":0.11,"v":0.07},{"x":1.7,"y":0.11,"v":0.07},{"x":2.3,"y":0.11,"v":0.07},
{"x":-4.29,"y":-0.01,"v":0.07},{"x":-3.99,"y":-0.01,"v":0.07},{"x":-3.79,"y":-0.01,"v":0.07},{"x":-3.39,"y":-0.01,"v":0.07},{"x":-2.89,"y":-0.01,"v":0.07},{"x":-2.79,"y":-0.01,"v":0.07},{"x":-2.09,"y":-0.01,"v":0.07},{"x":-1.79,"y":-0.01,"v":0.07},{"x":-1.49,"y":-0.01,"v":0.07},{"x":-1.19,"y":-0.01,"v":0.07},{"x":-0.49,"y":-0.01,"v":0.07},{"x":-0.39,"y":-0.01,"v":0.07},{"x":-0.29,"y":-0.01,"v":0.07},{"x":-0.19,"y":-0.01,"v":0.07},{"x":-0.09,"y":-0.01,"v":0.07},{"x":0.2,"y":-0.01,"v":0.07},{"x":0.3,"y":-0.01,"v":0.07},{"x":0.5,"y":-0.01,"v":0.07},{"x":1.2,"y":-0.01,"v":0.07},{"x":1.5,"y":-0.01,"v":0.07},{"x":1.6,"y":-0.01,"v":0.07},{"x":1.8,"y":-0.01,"v":0.12},{"x":2.1,"y":-0.01,"v":0.07},{"x":2.5,"y":-0.01,"v":0.07},
{"x":-4.49,"y":-0.12,"v":0.07},{"x":-4.09,"y":-0.12,"v":0.07},{"x":-3.89,"y":-0.12,"v":0.07},{"x":-3.79,"y":-0.12,"v":0.07},{"x":-3.39,"y":-0.12,"v":0.07},{"x":-2.79,"y":-0.12,"v":0.07},{"x":-1.79,"y":-0.12,"v":0.07},{"x":-1.69,"y":-0.12,"v":0.07},{"x":-1.19,"y":-0.12,"v":0.07},{"x":-1.09,"y":-0.12,"v":0.07},{"x":-0.49,"y":-0.12,"v":0.07},{"x":-0.29,"y":-0.12,"v":0.07},{"x":0.1,"y":-0.12,"v":0.07},{"x":0.5,"y":-0.12,"v":0.07},{"x":0.8,"y":-0.12,"v":0.07},{"x":1.4,"y":-0.12,"v":0.07},{"x":1.5,"y":-0.12,"v":0.07},{"x":1.7,"y":-0.12,"v":0.07},{"x":2,"y":-0.12,"v":0.07},{"x":2.2,"y":-0.12,"v":0.17},{"x":2.6,"y":-0.12,"v":0.17},{"x":2.7,"y":-0.12,"v":0.17},
{"x":-4.29,"y":-0.23,"v":0.07},{"x":-4.09,"y":-0.23,"v":0.07},{"x":-3.19,"y":-0.23,"v":0.07},{"x":-2.79,"y":-0.23,"v":0.07},{"x":-2.49,"y":-0.23,"v":0.07},{"x":-1.99,"y":-0.23,"v":0.07},{"x":-1.79,"y":-0.23,"v":0.07},{"x":-1.39,"y":-0.23,"v":0.07},{"x":-0.59,"y":-0.23,"v":0.07},{"x":-0.49,"y":-0.23,"v":0.07},{"x":-0.39,"y":-0.23,"v":0.07},{"x":-0.29,"y":-0.23,"v":0.07},{"x":-0.09,"y":-0.23,"v":0.07},{"x":0,"y":-0.23,"v":0.07},{"x":0.2,"y":-0.23,"v":0.07},{"x":0.4,"y":-0.23,"v":0.07},{"x":0.6,"y":-0.23,"v":0.07},{"x":1.1,"y":-0.23,"v":0.07},{"x":1.2,"y":-0.23,"v":0.07},{"x":1.6,"y":-0.23,"v":0.07},{"x":2.1,"y":-0.23,"v":0.07},{"x":2.3,"y":-0.23,"v":0.07},
{"x":-4.39,"y":-0.34,"v":0.07},{"x":-4.09,"y":-0.34,"v":0.07},{"x":-2.89,"y":-0.34,"v":0.07},{"x":-2.79,"y":-0.34,"v":0.07},{"x":-1.39,"y":-0.34,"v":0.07},{"x":-1.29,"y":-0.34,"v":0.07},{"x":-0.79,"y":-0.34,"v":0.07},{"x":-0.19,"y":-0.34,"v":0.17},{"x":-0.09,"y":-0.34,"v":0.07},{"x":0.4,"y":-0.34,"v":0.07},{"x":0.5,"y":-0.34,"v":0.07},{"x":0.9,"y":-0.34,"v":0.07},{"x":1,"y":-0.34,"v":0.07},{"x":1.9,"y":-0.34,"v":0.07},{"x":2.4,"y":-0.34,"v":0.07},
{"x":-3.99,"y":-0.45,"v":0.07},{"x":-3.89,"y":-0.45,"v":0.07},{"x":-3.79,"y":-0.45,"v":0.07},{"x":-3.39,"y":-0.45,"v":0.07},{"x":-3.19,"y":-0.45,"v":0.07},{"x":-2.89,"y":-0.45,"v":0.07},{"x":-2.79,"y":-0.45,"v":0.07},{"x":-2.49,"y":-0.45,"v":0.07},{"x":-2.09,"y":-0.45,"v":0.12},{"x":-1.99,"y":-0.45,"v":0.12},{"x":-1.09,"y":-0.45,"v":0.07},{"x":-0.99,"y":-0.45,"v":0.07},{"x":-0.79,"y":-0.45,"v":0.07},{"x":-0.69,"y":-0.45,"v":0.07},{"x":-0.29,"y":-0.45,"v":0.07},{"x":0.1,"y":-0.45,"v":0.12},{"x":0.7,"y":-0.45,"v":0.07},{"x":1.1,"y":-0.45,"v":0.12},{"x":1.9,"y":-0.45,"v":0.07},{"x":2.3,"y":-0.45,"v":0.07},{"x":2.4,"y":-0.45,"v":0.07},
{"x":-4.59,"y":-0.57,"v":0.12},{"x":-4.29,"y":-0.57,"v":0.07},{"x":-3.39,"y":-0.57,"v":0.07},{"x":-3.59,"y":-0.57,"v":0.07},{"x":-2.99,"y":-0.57,"v":0.07},{"x":-2.79,"y":-0.57,"v":0.07},{"x":-2.69,"y":-0.57,"v":0.07},{"x":-2.59,"y":-0.57,"v":0.07},{"x":-2.19,"y":-0.57,"v":0.07},{"x":-2.09,"y":-0.57,"v":0.07},{"x":-1.99,"y":-0.57,"v":0.07},{"x":-1.69,"y":-0.57,"v":0.07},{"x":-1.59,"y":-0.57,"v":0.07},{"x":-1.39,"y":-0.57,"v":0.07},{"x":-1.29,"y":-0.57,"v":0.07},{"x":-0.99,"y":-0.57,"v":0.07},{"x":-0.89,"y":-0.57,"v":0.07},{"x":-0.59,"y":-0.57,"v":0.07},{"x":-0.29,"y":-0.57,"v":0.07},{"x":0.1,"y":-0.57,"v":0.07},{"x":2.1,"y":-0.57,"v":0.07},{"x":2.7,"y":-0.57,"v":0.12},
{"x":-4.39,"y":-0.68,"v":0.07},{"x":-4.29,"y":-0.68,"v":0.07},{"x":-4.09,"y":-0.68,"v":0.12},{"x":-3.39,"y":-0.68,"v":0.07},{"x":-3.19,"y":-0.68,"v":0.07},{"x":-2.89,"y":-0.68,"v":0.07},{"x":-2.79,"y":-0.68,"v":0.07},{"x":-2.59,"y":-0.68,"v":0.07},{"x":-2.49,"y":-0.68,"v":0.07},{"x":-2.39,"y":-0.68,"v":0.07},{"x":-2.29,"y":-0.68,"v":0.07},{"x":-1.39,"y":-0.68,"v":0.07},{"x":-0.89,"y":-0.68,"v":0.07},{"x":-0.79,"y":-0.68,"v":0.07},{"x":0,"y":-0.68,"v":0.12},{"x":0.4,"y":-0.68,"v":0.07},{"x":1.6,"y":-0.68,"v":0.17},
{"x":-3.89,"y":-0.79,"v":0.17},{"x":-3.29,"y":-0.79,"v":0.07},{"x":-2.89,"y":-0.79,"v":0.07},{"x":-2.29,"y":-0.79,"v":0.07},{"x":-2.09,"y":-0.79,"v":0.12},{"x":-1.49,"y":-0.79,"v":0.07},{"x":-1.39,"y":-0.79,"v":0.07},{"x":-1.09,"y":-0.79,"v":0.07},{"x":-0.79,"y":-0.79,"v":0.12},{"x":-0.39,"y":-0.79,"v":0.07},{"x":0.1,"y":-0.79,"v":0.12},{"x":0.2,"y":-0.79,"v":0.12},{"x":0.3,"y":-0.79,"v":0.12},{"x":0.9,"y":-0.79,"v":0.07},{"x":1.3,"y":-0.79,"v":0.12},{"x":1.8,"y":-0.79,"v":0.12},{"x":2.2,"y":-0.79,"v":0.12},
{"x":-3.99,"y":-0.9,"v":0.07},{"x":-3.69,"y":-0.9,"v":0.07},{"x":-3.39,"y":-0.9,"v":0.07},{"x":-3.29,"y":-0.9,"v":0.07},{"x":-3.19,"y":-0.9,"v":0.07},{"x":-3.09,"y":-0.9,"v":0.07},{"x":-2.99,"y":-0.9,"v":0.07},{"x":-2.79,"y":-0.9,"v":0.17},{"x":-2.69,"y":-0.9,"v":0.07},{"x":-2.59,"y":-0.9,"v":0.07},{"x":-2.09,"y":-0.9,"v":0.07},{"x":-1.89,"y":-0.9,"v":0.07},{"x":-1.69,"y":-0.9,"v":0.07},{"x":-1.49,"y":-0.9,"v":0.07},{"x":-1.19,"y":-0.9,"v":0.12},{"x":-0.79,"y":-0.9,"v":0.12},{"x":-0.59,"y":-0.9,"v":0.07},{"x":-0.29,"y":-0.9,"v":0.07},{"x":1.8,"y":-0.9,"v":0.17},{"x":2.2,"y":-0.9,"v":0.12},
{"x":-4.49,"y":-1.01,"v":0.12},{"x":-4.29,"y":-1.01,"v":0.07},{"x":-4.09,"y":-1.01,"v":0.07},{"x":-3.89,"y":-1.01,"v":0.12},{"x":-3.79,"y":-1.01,"v":0.12},{"x":-3.69,"y":-1.01,"v":0.12},{"x":-2.89,"y":-1.01,"v":0.07},{"x":-2.69,"y":-1.01,"v":0.07},{"x":-2.59,"y":-1.01,"v":0.07},{"x":-2.19,"y":-1.01,"v":0.07},{"x":-1.79,"y":-1.01,"v":0.07},{"x":-1.59,"y":-1.01,"v":0.12},{"x":-1.49,"y":-1.01,"v":0.12},{"x":-0.89,"y":-1.01,"v":0.07},{"x":-0.59,"y":-1.01,"v":0.07},{"x":-0.39,"y":-1.01,"v":0.12},{"x":-0.09,"y":-1.01,"v":0.07},{"x":0.2,"y":-1.01,"v":0.07},{"x":0.7,"y":-1.01,"v":0.12},{"x":0.8,"y":-1.01,"v":0.07},{"x":1.2,"y":-1.01,"v":0.07},{"x":2.2,"y":-1.01,"v":0.12},{"x":2.4,"y":-1.01,"v":0.27},
{"x":-4.39,"y":-1.13,"v":0.57},{"x":-4.09,"y":-1.13,"v":0.07},{"x":-2.99,"y":-1.13,"v":0.27},{"x":-2.59,"y":-1.13,"v":0.42},{"x":-2.69,"y":-1.13,"v":0.42},{"x":-0.79,"y":-1.13,"v":0.12},{"x":0.1,"y":-1.13,"v":0.22},{"x":0.5,"y":-1.13,"v":0.17},{"x":0.7,"y":-1.13,"v":0.12}
]
},
"hconcat":[
{"width":729,"height":498,"resolve":{"scale":{"color":"shared"}},"layer":[
{"data":{"name":"regions"},"mark":{"type":"rect","clip":true},"encoding":{
"x":{"field":"x","type":"quantitative","scale":{"domain":[-5.9,3.81],"nice":false,"zero":false},"axis":{"values":[-5,-4,-3,-2,-1,0,1,2,3],"tickSize":-16,"labelPadding":22,"zindex":1,"format":"d"}},"x2":{"field":"x2"},
"y":{"field":"y","type":"quantitative","scale":{"domain":[-1.18,5.09],"nice":false,"zero":false},"axis":{"values":[-1,0,1,2,3,4,5],"tickSize":-22,"labelPadding":26,"zindex":1,"format":"d"}},"y2":{"field":"y2"},
"color":{"field":"v","type":"quantitative","legend":null,"scale":{"type":"threshold","domain":[0.05,0.1,0.15,0.2,0.25,0.3,0.35,0.4,0.45,0.5,0.55,0.6,0.65,0.7,0.75,0.8,0.85,0.9,0.95],"range":["#2a31a9","#1549c4","#0f5fd0","#0e6acc","#0c78c8","#0a86c6","#0896c2","#08a2b8","#09aaa8","#0fb29a","#33b88a","#5cba78","#88ba62","#a4ba58","#bcb44e","#d8b03e","#efb428","#f6c014","#f7de00","#f2f200"]}}}},
{"data":{"name":"cells"},"mark":{"type":"rect","width":7.6,"height":9,"clip":true},"encoding":{
"x":{"field":"x","type":"quantitative"},"y":{"field":"y","type":"quantitative"},"color":{"field":"v","type":"quantitative","legend":null,"scale":{"type":"threshold","domain":[0.05,0.1,0.15,0.2,0.25,0.3,0.35,0.4,0.45,0.5,0.55,0.6,0.65,0.7,0.75,0.8,0.85,0.9,0.95],"range":["#2a31a9","#1549c4","#0f5fd0","#0e6acc","#0c78c8","#0a86c6","#0896c2","#08a2b8","#09aaa8","#0fb29a","#33b88a","#5cba78","#88ba62","#a4ba58","#bcb44e","#d8b03e","#efb428","#f6c014","#f7de00","#f2f200"]}}}},
{"data":{"name":"xm"},"mark":{"type":"tick","orient":"vertical","size":18,"color":"#333","thickness":1,"clip":true},"encoding":{"x":{"field":"x","type":"quantitative"},"y":{"datum":-1.18,"type":"quantitative"}}},
{"data":{"name":"ym"},"mark":{"type":"tick","orient":"horizontal","size":24,"color":"#333","thickness":1,"clip":true},"encoding":{"y":{"field":"y","type":"quantitative"},"x":{"datum":-5.9,"type":"quantitative"}}},
{"data":{"values":[{"t":1}]},"mark":{"type":"rect","fillOpacity":0,"stroke":"#666","strokeWidth":1},"encoding":{"x":{"datum":-5.9,"type":"quantitative"},"x2":{"datum":3.81},"y":{"datum":-1.18,"type":"quantitative"},"y2":{"datum":5.09}}}
]},
{"width":43,"height":498,"data":{"name":"bar"},"mark":"rect","encoding":{
"x":{"datum":0,"type":"quantitative","scale":{"domain":[0,1]},"axis":null},"x2":{"datum":1},
"y":{"field":"a","type":"quantitative","scale":{"domain":[0,1],"nice":false},"axis":{"orient":"right","values":[0,0.1,0.2,0.3,0.4,0.5,0.6,0.7,0.8,0.9,1],"tickSize":-22,"labelPadding":26,"zindex":1,"labelExpr":"format(datum.value,'.1~f')"}},"y2":{"field":"b"},
"color":{"field":"a","type":"quantitative","legend":null,"scale":{"type":"threshold","domain":[0.05,0.1,0.15,0.2,0.25,0.3,0.35,0.4,0.45,0.5,0.55,0.6,0.65,0.7,0.75,0.8,0.85,0.9,0.95],"range":["#2a31a9","#1549c4","#0f5fd0","#0e6acc","#0c78c8","#0a86c6","#0896c2","#08a2b8","#09aaa8","#0fb29a","#33b88a","#5cba78","#88ba62","#a4ba58","#bcb44e","#d8b03e","#efb428","#f6c014","#f7de00","#f2f200"]}}}}
],"resolve":{"scale":{"color":"independent"}}}
